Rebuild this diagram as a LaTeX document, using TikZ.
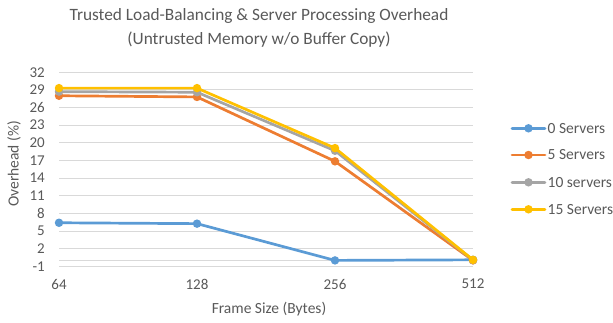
\documentclass[tikz,border=0pt]{standalone}
\usepackage{fontspec}
\setmainfont{Carlito}
\definecolor{txt}{HTML}{595959}
\definecolor{grid}{HTML}{D9D9D9}
\definecolor{sblue}{HTML}{5B9BD5}
\definecolor{sorange}{HTML}{ED7D31}
\definecolor{sgray}{HTML}{A5A5A5}
\definecolor{sgold}{HTML}{FFC000}
\begin{document}
\begin{tikzpicture}[x=1pt,y=1pt,
  gridline/.style={draw=grid,line width=1pt},
  ticklab/.style={text=txt,font=\fontsize{15}{17}\selectfont,inner sep=0pt},
  leglab/.style={text=txt,font=\fontsize{15.5}{18}\selectfont,inner sep=0pt},
  axlab/.style={text=txt,font=\fontsize{15.5}{18}\selectfont,inner sep=0pt},
  series/.style={line width=2.7pt,line join=round,line cap=round},
  pt/.style={circle,fill=#1,minimum size=8.5pt,inner sep=0pt}]
\useasboundingbox (0,0) rectangle (613,322);
% title
\node[text=txt,font=\fontsize{17.3}{24}\selectfont,align=center,inner sep=0pt] (title) at (259,294)
  {Trusted Load-Balancing \& Server Processing Overhead\\(Untrusted Memory w/o Buffer Copy)};
% gridlines and y tick labels
\foreach \v in {-1,2,5,8,11,14,17,20,23,26,29,32}{
  \draw[gridline] (59,{61.6+5.88*\v}) -- (473,{61.6+5.88*\v});
  \node[ticklab,anchor=east] (yl\v) at (45,{61.6+5.88*\v}) {\v};
}
\draw[gridline] (59,61.6) -- (473,61.6);
% x tick labels
\node[ticklab] (x64) at (59,38) {64};
\node[ticklab] (x128) at (197,38) {128};
\node[ticklab] (x256) at (335,38) {256};
\node[ticklab] (x512) at (473,38) {512};
\node[axlab] (xtitle) at (269,13) {Frame Size (Bytes)};
\node[axlab,rotate=90] (ytitle) at (14,158) {Overhead (\%)};
% data points
\def\Y#1{61.6+5.88*#1}
\foreach \name/\c/\a/\b/\cc/\d in {
  z/sblue/6.4/6.25/0.0/0.1,
  f/sorange/28.0/27.8/16.85/0.0,
  t/sgray/28.7/28.6/18.65/0.05,
  q/sgold/29.3/29.3/19.1/0.1}{
  \coordinate (\name1) at (59,{\Y{\a}});
  \coordinate (\name2) at (197,{\Y{\b}});
  \coordinate (\name3) at (335,{\Y{\cc}});
  \coordinate (\name4) at (473,{\Y{\d}});
  \draw[series,draw=\c] (\name1) -- (\name2) -- (\name3) -- (\name4);
  \foreach \i in {1,2,3,4}{\node[pt=\c] (\name p\i) at (\name\i) {};}
}
% legend
\foreach \name/\c/\lab/\yy in {
  z/sblue/0 Servers/193.7,
  f/sorange/5 Servers/167,
  t/sgray/10 servers/139.7,
  q/sgold/15 Servers/112.7}{
  \coordinate (\name L1) at (512,\yy);
  \coordinate (\name L2) at (545,\yy);
  \draw[series,draw=\c] (\name L1) -- (\name L2);
  \node[pt=\c] (\name Lm) at (528.5,\yy) {};
  \node[leglab,anchor=west] (\name Lt) at (547.5,\yy) {\lab};
}
\end{tikzpicture}
\end{document}
